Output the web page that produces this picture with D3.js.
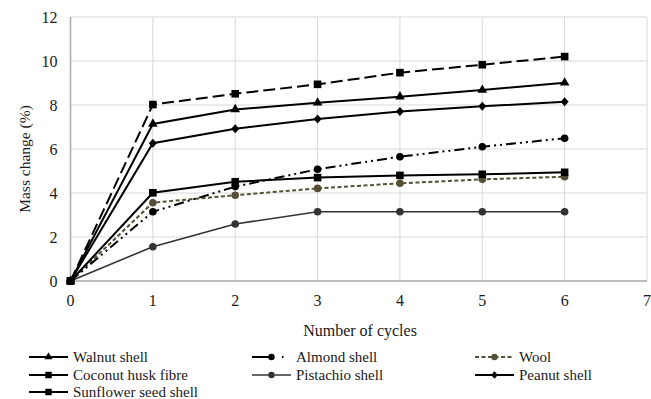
<!DOCTYPE html>
<html><head><meta charset="utf-8">
<script src="https://cdn.jsdelivr.net/npm/d3@7"></script>
<style>body{margin:0;background:#fff;font-family:'Liberation Serif'}svg{display:block}svg text{font-family:'Liberation Serif'}</style>
</head><body><svg id="c" width="651" height="399"></svg>
<script>
const cycles = [0,1,2,3,4,5,6];
const walnut = [0,7.14,7.8,8.1,8.38,8.68,9.01];
const almond = [0,3.15,4.29,5.08,5.65,6.1,6.49];
const wool = [0,3.56,3.9,4.21,4.44,4.62,4.74];
const coconut = [0,4.01,4.51,4.7,4.8,4.85,4.94];
const pistachio = [0,1.56,2.59,3.15,3.15,3.15,3.15];
const peanut = [0,6.26,6.92,7.36,7.7,7.94,8.15];
const sunflower = [0,8.02,8.51,8.94,9.47,9.83,10.2];
const seriesNames = ["Walnut shell","Almond shell","Wool","Coconut husk fibre","Pistachio shell","Peanut shell","Sunflower seed shell"];
const xTicks = [0,1,2,3,4,5,6,7];
const yTicks = [0,2,4,6,8,10,12];

const styles = {
 "Walnut shell":{c:"#000",w:2,d:null,m:"triangle"},
 "Almond shell":{c:"#000",w:2,d:"10,4,2,4,2,4",m:"circle"},
 "Wool":{c:"#544f36",w:2,d:"4,2.5",m:"circle"},
 "Coconut husk fibre":{c:"#000",w:2,d:null,m:"square"},
 "Pistachio shell":{c:"#333",w:1.6,d:null,m:"circle"},
 "Peanut shell":{c:"#000",w:2,d:null,m:"diamond"},
 "Sunflower seed shell":{c:"#000",w:2,d:"12,5",m:"square"}
};
const data = [walnut,almond,wool,coconut,pistachio,peanut,sunflower];
const drawOrder = [4,2,1,3,5,0,6];

const FONT = "Liberation Serif";
const svg = d3.select("#c");
const x = d3.scaleLinear().domain([0,7]).range([70.5,647]);
const y = d3.scaleLinear().domain([0,12]).range([281,17]);
const txtCol = "#1a1a1a";

svg.append("g").selectAll("line").data(xTicks.slice(1)).join("line")
 .attr("x1",d=>x(d)).attr("x2",d=>x(d)).attr("y1",y(0)).attr("y2",y(12))
 .attr("stroke","#d9d9d9").attr("stroke-width",1);
svg.append("g").selectAll("line").data(yTicks.slice(1)).join("line")
 .attr("x1",x(0)).attr("x2",x(7)).attr("y1",d=>y(d)).attr("y2",d=>y(d))
 .attr("stroke","#d9d9d9").attr("stroke-width",1);
svg.append("line").attr("x1",x(0)).attr("x2",x(7)).attr("y1",y(0)).attr("y2",y(0)).attr("stroke","#a6a6a6").attr("stroke-width",1.5);
svg.append("line").attr("x1",x(0)).attr("x2",x(0)).attr("y1",y(0)).attr("y2",y(12)).attr("stroke","#a6a6a6").attr("stroke-width",1.5);

svg.append("g").selectAll("text").data(xTicks).join("text")
 .attr("x",d=>x(d)).attr("y",y(0)+25).attr("text-anchor","middle").attr("font-family",FONT).attr("font-size",16).attr("fill",txtCol).text(d=>d);
svg.append("g").selectAll("text").data(yTicks).join("text")
 .attr("x",x(0)-13).attr("y",d=>y(d)+5.5).attr("text-anchor","end").attr("font-family",FONT).attr("font-size",16).attr("fill",txtCol).text(d=>d);

svg.append("text").attr("x",360).attr("y",336).attr("text-anchor","middle").attr("font-family",FONT).attr("font-size",16).attr("fill",txtCol).text("Number of cycles");
svg.append("text").attr("transform",`translate(30,159) rotate(-90)`).attr("text-anchor","middle").attr("font-family",FONT).attr("font-size",15.5).attr("fill",txtCol).text("Mass change (%)");

function marker(g,type,cx,cy,col,s){
 s = s||1;
 if(type==="circle") g.append("circle").attr("cx",cx).attr("cy",cy).attr("r",3.8*s).attr("fill",col);
 else if(type==="square") g.append("rect").attr("x",cx-3.8*s).attr("y",cy-3.8*s).attr("width",7.6*s).attr("height",7.6*s).attr("fill",col);
 else if(type==="triangle") g.append("path").attr("d",d3.symbol().type(d3.symbolTriangle).size(40*s*s)()).attr("transform",`translate(${cx},${cy})`).attr("fill",col);
 else if(type==="diamond") g.append("path").attr("d",`M0,-4.5L4,0L0,4.5L-4,0Z`).attr("transform",`translate(${cx},${cy}) scale(${s})`).attr("fill",col);
}

const line = d3.line().x((d,i)=>x(cycles[i])).y(d=>y(d));
drawOrder.forEach(k=>{
 const name = seriesNames[k], st = styles[name];
 const g = svg.append("g");
 g.append("path").datum(data[k]).attr("d",line).attr("fill","none").attr("stroke",st.c)
  .attr("stroke-width",st.w).attr("stroke-dasharray",st.d);
 data[k].forEach((v,i)=>marker(g,st.m,x(cycles[i]),y(v),st.c));
});

const legPos = [[29,357],[252,357],[475,357],[29,375],[252,375],[475,375],[29,392]];
seriesNames.forEach((name,i)=>{
 const st = styles[name], [lx,ly] = legPos[i];
 const g = svg.append("g");
 g.append("line").attr("x1",lx).attr("x2",lx+39).attr("y1",ly).attr("y2",ly).attr("stroke",st.c)
  .attr("stroke-width",st.w).attr("stroke-dasharray",name==="Almond shell"?"20,10,1.5,10":(name==="Sunflower seed shell"?null:st.d));
 marker(g,st.m,lx+19.5,ly,st.c,0.85);
 g.append("text").attr("x",lx+44).attr("y",ly+5).attr("font-family",FONT).attr("font-size",15).attr("fill",txtCol).text(name);
});
</script></body></html>
